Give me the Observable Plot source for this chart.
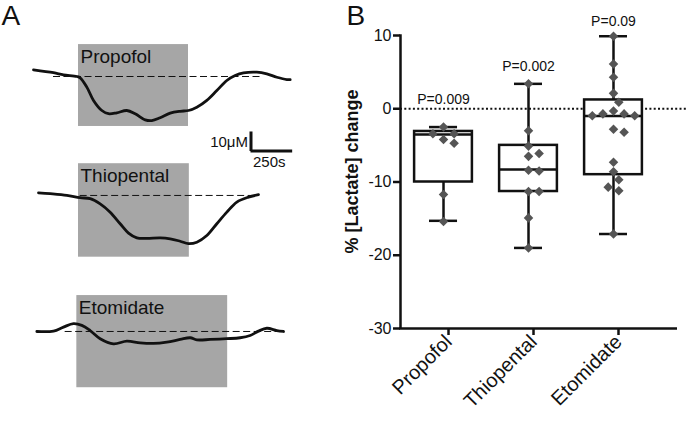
<!DOCTYPE html>
<html><head><meta charset="utf-8">
<script src="https://cdn.jsdelivr.net/npm/d3@7"></script>
<script src="https://cdn.jsdelivr.net/npm/@observablehq/plot@0.6"></script>
<style>
body{margin:0;background:#fff;}
#wrap{position:relative;width:686px;height:421px;overflow:hidden;background:#fff;}
#left{position:absolute;left:0;top:0;}
#right{position:absolute;left:300px;top:0;}
</style></head><body><div id="wrap"><div id="left"></div><div id="right"></div></div>
<script>
// ---------- DATA ----------
const drugs = ["Propofol", "Thiopental", "Etomidate"];

// Panel A: example traces, time (s) and [lactate] change from baseline (μM)
const propofolTime = [0,120,180,260,280,320,360,410,450,500,560,610,670,710,760,820,880,930,980,1040,1100,1160,1210,1260,1340,1400,1460,1520,1540];
const propofolConc = [3.5,2.0,0.9,0,-0.7,-5.6,-12.6,-17.9,-19.6,-19.1,-17.9,-19.6,-22.8,-23.2,-21.7,-19.3,-18.3,-17.9,-16.2,-12.6,-7.4,-2.1,0.5,1.9,2.3,1.4,-0.4,-1.6,-1.6];
const thiopentalTime = [30,100,200,280,340,400,460,520,570,620,680,760,820,880,930,980,1040,1100,1160,1220,1290,1350];
const thiopentalConc = [1.4,0.9,0,-1.2,-1.7,-4.4,-8.8,-14.9,-19.8,-22.3,-22.6,-22.3,-22.8,-24.1,-25.4,-24.6,-21.1,-14.9,-8.8,-3.5,-0.9,0.4];
const etomidateTime = [20,120,180,240,290,340,400,480,560,640,720,800,880,940,980,1060,1160,1240,1300,1350,1400,1460,1500];
const etomidateConc = [0,0.2,2.3,4.1,3.2,0.5,-3.8,-6.5,-5.1,-6.0,-6.3,-5.6,-4.2,-3.3,-4.4,-4.2,-3.8,-3.3,-2.1,0.2,1.7,0.5,0];

// drug application windows (s) and shaded box extent (μM)
const applyStart = [270, 270, 260];
const applyEnd = [930, 935, 1165];
const boxTop = [16.8, 16.7, 18.9];
const boxBottom = [-26.3, -32.5, -29.6];
// dashed baseline extent (s)
const baseStart = [120, 280, 190];
const baseEnd = [1380, 1340, 1480];

// Panel B: % [Lactate] change per slice
const propofolPct = [-2.5,-3.4,-3.4,-4.2,-4.7,-11.7,-15.4];
const thiopentalPct = [3.4,-3.0,-5.1,-6.1,-6.5,-8.4,-8.5,-11.3,-11.3,-14.9,-19.0];
const etomidatePct = [9.9,6.1,4.3,2.1,0.9,-0.3,-0.7,-0.7,-0.95,-0.95,-2.8,-3.2,-7.3,-8.6,-9.7,-10.7,-11.2,-17.1];
// box plot summaries (min, q1, median, q3, max)
const boxMin = [-15.3, -19.0, -17.1];
const boxQ1 = [-10.0, -11.3, -9.0];
const boxMedian = [-3.5, -8.3, -1.0];
const boxQ3 = [-3.1, -5.0, 1.2];
const boxMax = [-2.5, 3.4, 9.9];
const pValues = ["P=0.009", "P=0.002", "P=0.09"];
const pLabelY = [0.7, 5.2, 11.25];
const yTicks = [10, 0, -10, -20, -30];

// ---------- LAYOUT ----------
const FONT = "'Liberation Sans', Arial, Helvetica, sans-serif";
const W = 686, H = 421;
const leftW = 300, rightW = W - leftW;
const pxPerUM = 1.9, pxPerSec = 1 / 6;
const panelOffset = [-40.0, -102.6, -174.2]; // stacking offset of each trace (μM)

const traceSets = [[propofolTime, propofolConc], [thiopentalTime, thiopentalConc], [etomidateTime, etomidateConc]];
const traces = traceSets.flatMap(([ts, cs], k) => ts.map((t, j) => ({drug: drugs[k], t, y: cs[j] + panelOffset[k]})));
const panels = drugs.map((d, k) => ({
  drug: d, x1: applyStart[k], x2: applyEnd[k],
  y1: panelOffset[k] + boxBottom[k], y2: panelOffset[k] + boxTop[k],
  b1: baseStart[k], b2: baseEnd[k], base: panelOffset[k]
}));
const bar = {t: 1305, y: -79.2}; // scale bar anchor

const t0 = -33 / pxPerSec;
const left = Plot.plot({
  width: leftW, height: H,
  marginTop: 0, marginBottom: 0, marginLeft: 0, marginRight: 0,
  style: {fontFamily: FONT, background: "transparent"},
  x: {domain: [t0, t0 + leftW / pxPerSec], axis: null},
  y: {domain: [-H / pxPerUM, 0], axis: null},
  marks: [
    Plot.rect(panels, {x1: "x1", x2: "x2", y1: "y1", y2: "y2", fill: "#a6a6a6"}),
    Plot.text(panels, {x: "x1", y: "y2", text: "drug", textAnchor: "start", lineAnchor: "top", dx: 2, dy: 5, fontSize: 19, fill: "#111"}),
    Plot.ruleY(panels, {y: "base", x1: "b1", x2: "b2", stroke: "#111", strokeWidth: 1, strokeDasharray: "7,3.5"}),
    Plot.line(traces, {x: "t", y: "y", z: "drug", curve: "catmull-rom", stroke: "#111", strokeWidth: 2.8}),
    Plot.ruleX([bar], {x: "t", y1: d => d.y - 0.3, y2: d => d.y + 10, stroke: "#111", strokeWidth: 3}),
    Plot.ruleY([bar], {y: "y", x1: "t", x2: d => d.t + 250, stroke: "#111", strokeWidth: 3}),
    Plot.text([bar], {x: "t", y: d => d.y + 2.3, text: () => "10μM", textAnchor: "end", lineAnchor: "bottom", dx: -3, fontSize: 15, fill: "#111"}),
    Plot.text([bar], {x: "t", y: d => d.y - 2.6, text: () => "250s", textAnchor: "start", lineAnchor: "top", dx: 2, fontSize: 15, fill: "#111"}),
    Plot.text(["A"], {frameAnchor: "top-left", textAnchor: "start", lineAnchor: "top", dx: 1, dy: 5, fontSize: 28, fill: "#111"})
  ]
});
document.getElementById("left").appendChild(left);

// beeswarm offsets (px) so diamonds do not overlap
const yPxPerUnit = 293 / 40, xPxPerUnit = 85;
function swarm(values, step, minDist) {
  const order = values.map((v, i) => i).sort((a, b) => values[b] - values[a]);
  const cands = [0];
  for (let k = 1; k <= 6; k++) cands.push(k * step, -k * step);
  const placed = [], off = new Array(values.length).fill(0);
  for (const i of order) {
    const py = values[i] * yPxPerUnit;
    for (const c of cands) {
      if (placed.every(p => Math.hypot(p.x - c, p.y - py) >= minDist)) { off[i] = c; placed.push({x: c, y: py}); break; }
    }
  }
  return off;
}
const pctSets = [propofolPct, thiopentalPct, etomidatePct];
const points = pctSets.flatMap((vals, k) => {
  const off = swarm(vals, 5.3, 9.5);
  return vals.map((v, j) => ({drug: drugs[k], x: k + 1 + off[j] / xPxPerUnit, v}));
});
const stats = drugs.map((d, k) => ({i: k + 1, min: boxMin[k], q1: boxQ1[k], med: boxMedian[k], q3: boxQ3[k], max: boxMax[k], p: pValues[k], py: pLabelY[k]}));

const xDom = [0.494, 3.753];
const halfBox = 0.34, halfCap = 0.165;
const right = Plot.plot({
  width: rightW, height: H,
  marginLeft: 100, marginRight: 9, marginTop: 35, marginBottom: 93,
  style: {fontFamily: FONT, background: "transparent", color: "#111"},
  x: {type: "linear", domain: xDom},
  y: {domain: [-30, 10]},
  marks: [
    Plot.ruleY([0], {x1: xDom[0], x2: xDom[0] + (rightW - 100) / xPxPerUnit, stroke: "#111", strokeWidth: 2, strokeDasharray: "2,2.3"}),
    Plot.ruleX(stats, {x: "i", y1: "min", y2: "q1", stroke: "#111", strokeWidth: 2.5}),
    Plot.ruleX(stats, {x: "i", y1: "q3", y2: "max", stroke: "#111", strokeWidth: 2.5}),
    Plot.ruleY(stats, {y: "min", x1: d => d.i - halfCap, x2: d => d.i + halfCap, stroke: "#111", strokeWidth: 2.5}),
    Plot.ruleY(stats, {y: "max", x1: d => d.i - halfCap, x2: d => d.i + halfCap, stroke: "#111", strokeWidth: 2.5}),
    Plot.rect(stats, {x1: d => d.i - halfBox, x2: d => d.i + halfBox, y1: "q1", y2: "q3", fill: "white", stroke: "#111", strokeWidth: 2.5}),
    Plot.ruleY(stats, {y: "med", x1: d => d.i - halfBox, x2: d => d.i + halfBox, stroke: "#111", strokeWidth: 2.5}),
    Plot.dot(points, {x: "x", y: "v", symbol: "diamond2", r: 4.3, fill: "#555", stroke: null}),
    Plot.text(stats, {x: "i", y: "py", text: "p", lineAnchor: "bottom", fontSize: 14, fill: "#111"}),
    Plot.ruleX([xDom[0]], {y1: -30.1, y2: 10.1, stroke: "#111", strokeWidth: 2.5}),
    Plot.ruleY([-30], {x1: xDom[0] - 0.01, x2: xDom[1], stroke: "#111", strokeWidth: 2.5}),
    Plot.axisY({ticks: yTicks, tickFormat: d => String(d), tickSize: 7, tickPadding: 2, fontSize: 16, strokeWidth: 2.5, label: null}),
    Plot.axisX({ticks: [1, 2, 3], tickFormat: i => drugs[i - 1], tickRotate: -45, tickSize: 6, tickPadding: 3, dx: 5, dy: 1, fontSize: 20, strokeWidth: 2.5, label: null}),
    Plot.text(["% [Lactate] change"], {frameAnchor: "left", rotate: -90, textAnchor: "middle", fontWeight: "bold", fontSize: 18, dx: -48, dy: -10.5, fill: "#111"}),
    Plot.text(["B"], {frameAnchor: "top-left", textAnchor: "start", lineAnchor: "top", dx: -54, dy: -30, fontSize: 28, fill: "#111"})
  ]
});
document.getElementById("right").appendChild(right);
</script></body></html>
